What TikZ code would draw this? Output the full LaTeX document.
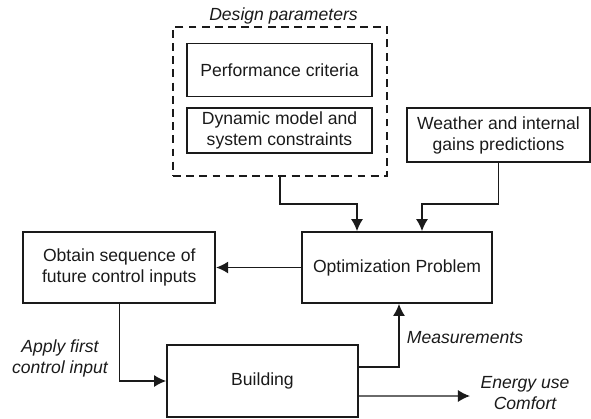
\documentclass[tikz,border=0pt]{standalone}
\usepackage{fontspec}
\setmainfont{Liberation Sans}
\usepackage{tikz}
\usetikzlibrary{arrows.meta,positioning,calc}
\definecolor{diagramInk}{HTML}{1A1A1A}
\tikzset{
  block/.style={
    rectangle,
    draw=diagramInk,
    line width=1pt,
    align=center,
    inner sep=0pt,
    text=diagramInk,
    font=\normalsize
  },
  groupBox/.style={
    rectangle,
    draw=diagramInk,
    line width=1pt,
    dash pattern=on 4.5pt off 3pt,
    inner sep=0pt,
    minimum width=42.8mm,
    minimum height=29.8mm
  },
  tag/.style={
    align=center,
    text=diagramInk,
    font=\normalsize\itshape,
    inner sep=1pt
  },
  arrow/.style={
    -{Latex[length=2.4mm,width=2.4mm]},
    line width=0.8pt,
    draw=diagramInk
  }
}

\begin{document}
\begin{tikzpicture}
  \useasboundingbox (0,0) rectangle (11.82,-8.36);
  % design parameters group
  \node[groupBox] (design) at (5.6,-2.03) {};
  \node[tag] (designTag) at (5.67,-0.32) {Design parameters};
  \node[block,minimum width=37mm,minimum height=10.6mm] (perf) at (5.59,-1.40) {Performance criteria};
  \node[block,minimum width=37mm,minimum height=9mm,below=2mm of perf] (dyn) {Dynamic model and\\system constraints};
  \node[block,minimum width=36.6mm,minimum height=10.8mm] (weather) at (9.97,-2.70) {Weather and internal\\gains predictions};
  % control loop
  \node[block,minimum width=38mm,minimum height=14.2mm] (opt) at (7.94,-5.35) {Optimization Problem};
  \node[block,minimum width=38.4mm,minimum height=14.2mm,left=17mm of opt] (obtain) {Obtain sequence of\\future control inputs};
  \node[block,minimum width=38.2mm,minimum height=14.4mm] (building) at (5.25,-7.62) {Building};
  \node[tag] (applyTag) at (1.2,-7.16) {Apply first\\control input};
  \node[tag] (measTag) at (9.3,-6.76) {Measurements};
  \node[tag] (energyTag) at (10.5,-7.86) {Energy use\\Comfort};
  \coordinate (energyEnd) at (9.4,-7.92);
  \coordinate (optInA) at ([xshift=-8mm]opt.north);
  \coordinate (optInB) at ([xshift=5mm]opt.north);
  \coordinate (optInC) at ([xshift=0.4mm]opt.south);
  \draw[arrow] (design.south) -- ++(0,-0.54) -| (optInA);
  \draw[arrow] (weather.south) -- ++(0,-0.82) -| (optInB);
  \draw[arrow] (opt.west) -- (obtain.east);
  \draw[arrow] (obtain.south) |- (building.west);
  \draw[arrow] ([yshift=2.8mm]building.east) -| (optInC);
  \draw[arrow] ([yshift=-3mm]building.east) -- (energyEnd);
\end{tikzpicture}
\end{document}
